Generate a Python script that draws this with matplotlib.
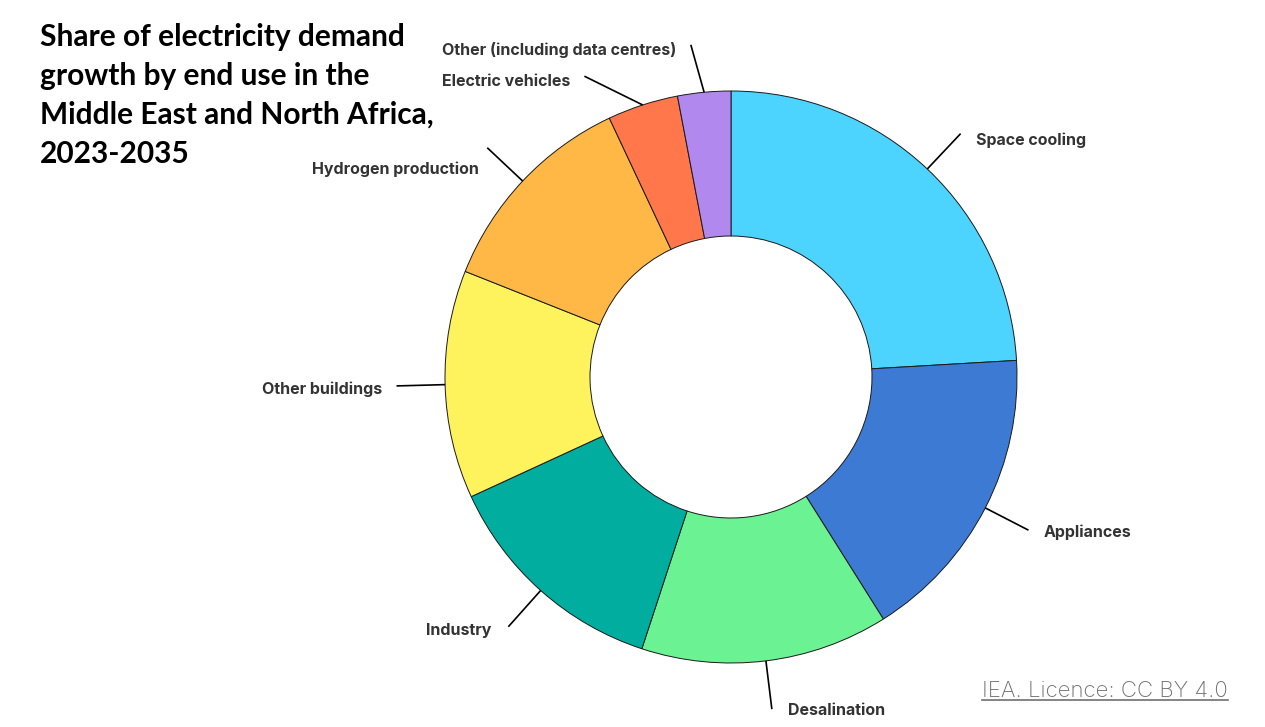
import numpy as np
import matplotlib
matplotlib.use("Agg")
import matplotlib.pyplot as plt

# share of electricity demand growth, MENA 2023-2035 (%)
categories = ["Space cooling", "Appliances", "Desalination", "Industry",
              "Other buildings", "Hydrogen production", "Electric vehicles",
              "Other (including data centres)"]
shares = [24.1, 17.0, 14.0, 13.1, 12.9, 12.0, 4.0, 3.0]
colors = ["#4cd3fe", "#3d7ad3", "#6af293", "#00ad9f",
          "#fff35d", "#ffb846", "#ff774b", "#b088ee"]
title_lines = ["Share of electricity demand", "growth by end use in the",
               "Middle East and North Africa,", "2023-2035"]

# label tweaks: connector end angle shift (deg), label nudge dx, dy (px)
label_nudge = [(0, 15, 7), (0, 15, 2), (0, 16, 1), (0, -17, 4),
               (0, -14, 3), (0, -8, 22), (-8, -14, 5), (-1.5, -14, 5)]

W, H = 1265, 727
cx, cy, R = 731, 377, 286  # pixel centre (from top) and outer radius

fig = plt.figure(figsize=(W / 100, H / 100), dpi=100)
ax = fig.add_axes([0, 0, 1, 1])

wedges, _ = ax.pie(shares, colors=colors, startangle=90, counterclock=False,
                   radius=1.0, wedgeprops=dict(width=0.507, edgecolor="#1a1a1a",
                                               linewidth=0.7))
ax.set_xlim(-cx / R, (W - cx) / R)
ax.set_ylim(-(H - cy) / R, cy / R)
ax.set_aspect("auto")
ax.axis("off")

for w, name, (dang, dx, dy) in zip(wedges, categories, label_nudge):
    mid = np.deg2rad((w.theta1 + w.theta2) / 2)
    end = mid - np.deg2rad(dang)
    x0, y0 = np.cos(mid), np.sin(mid)
    x1, y1 = 1.17 * np.cos(end), 1.17 * np.sin(end)
    ax.plot([x0, x1], [y0, y1], color="black", lw=1.2, solid_capstyle="butt")
    ax.text(x1 + dx / R, y1 - dy / R, name, ha="left" if dx > 0 else "right",
            va="center", fontsize=11.5, fontweight="bold", color="#333333",
            family=["Inter", "DejaVu Sans"])

# title, one text per line (baselines 39 px apart)
for i, line in enumerate(title_lines):
    fig.text(40 / W, 1 - (46 + 39 * i) / H, line, ha="left", va="baseline",
             fontsize=21.5, fontweight="bold", family="Lato", color="black")

fig.text(1228 / W, 1 - 697 / H, "IEA. Licence: CC BY 4.0", ha="right",
         va="baseline", fontsize=16, fontweight="light",
         family=["Inter", "DejaVu Sans"], color="#707070")
fig.add_artist(plt.Line2D([982 / W, 1228 / W], [1 - 700 / H, 1 - 700 / H],
                          color="#707070", lw=1.2))

fig.savefig("out.png", dpi=100, facecolor="white")
